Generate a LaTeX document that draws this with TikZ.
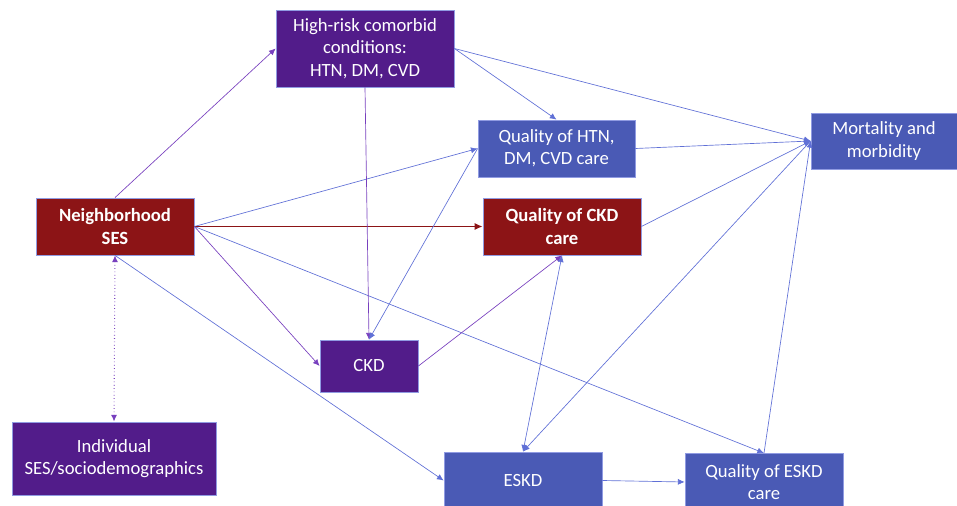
\documentclass[tikz,border=0pt]{standalone}
\usepackage{fontspec}
\setmainfont{Carlito}
\usepackage{xcolor}
\usetikzlibrary{arrows.meta}

\definecolor{boxpurple}{RGB}{82,28,138}
\definecolor{boxblue}{RGB}{74,90,181}
\definecolor{boxred}{RGB}{140,20,22}
\definecolor{edgeblue}{RGB}{96,112,214}
\definecolor{edgepurple}{RGB}{120,64,190}

\begin{document}
\begin{tikzpicture}[x=0.75pt, y=-0.75pt]
        \tikzstyle{every node}=[font=\fontsize{14}{16.8}\selectfont, text=white, align=center, inner sep=2pt]
        \tikzstyle{box}=[draw=edgeblue!70, line width=0.6pt, minimum width=158*0.75pt, minimum height=57*0.75pt]
        \tikzstyle{pbox}=[box, fill=boxpurple]
        \tikzstyle{bbox}=[box, fill=boxblue]
        \tikzstyle{rbox}=[box, fill=boxred, font=\fontsize{14}{16.8}\selectfont\bfseries]
        \tikzstyle{blueline}=[edgeblue, line width=0.5pt, -{Latex[length=5pt,width=4.5pt]}]
        \tikzstyle{purpleline}=[edgepurple, line width=0.5pt, -{Latex[length=5pt,width=4.5pt]}]

        \useasboundingbox (0,0) rectangle (957,506);
        \clip (0,0) rectangle (957,506);

        % Boxes
        \node[pbox, minimum width=178*0.75pt, minimum height=77*0.75pt] (high) at (365,48.5) {High-risk comorbid\\conditions:\\HTN, DM, CVD};
        \node[bbox, minimum width=157*0.75pt] (qhtn) at (556.5,148.5) {Quality of HTN,\\DM, CVD care};
        \node[bbox, minimum width=146*0.75pt, minimum height=56*0.75pt] (mort) at (884,141) {Mortality and\\morbidity};
        \node[rbox] (nses) at (115,226.5) {Neighborhood\\SES};
        \node[rbox] (qckd) at (562,226.5) {Quality of CKD\\care};
        \node[pbox, minimum width=98*0.75pt, minimum height=52*0.75pt] (ckd) at (369,366) {CKD};
        \node[pbox, minimum width=204*0.75pt, minimum height=73*0.75pt] (indiv) at (114,458.5) {Individual\\SES/sociodemographics};
        \node[bbox] (eskd) at (523,480.5) {ESKD};
        \node[bbox] (qeskd) at (764,482) {Quality of ESKD\\care};

        % From neighborhood SES
        \draw[purpleline] (nses.north) -- (high.west);
        \draw[blueline] (nses.east) -- (qhtn.west);
        \draw[boxred, line width=1.3pt, -{Latex[length=6pt,width=5.5pt]}] (nses.east) -- (qckd.west);
        \draw[purpleline] (nses.east) -- (ckd.west);
        \draw[blueline] (nses.east) -- (qeskd.north);
        \draw[blueline] (nses.south) -- (eskd.west);
        \draw[purpleline, dotted, line width=0.8pt, {Latex[length=5pt,width=4.5pt]}-{Latex[length=5pt,width=4.5pt]}] (nses.south) -- (indiv.north);

        % From comorbid conditions
        \draw[purpleline] (high.south) -- (ckd.north);
        \draw[blueline] (high.east) -- (qhtn.north);
        \draw[blueline] (high.east) -- (mort.west);

        % Care and outcomes
        \draw[blueline] (qhtn.west) -- (ckd.north);
        \draw[purpleline] (ckd.east) -- (qckd.south);
        \draw[blueline, {Latex[length=5pt,width=4.5pt]}-{Latex[length=5pt,width=4.5pt]}] (qckd.south) -- (eskd.north);
        \draw[blueline] (mort.west) -- (eskd.north);
        \draw[blueline] (qhtn.east) -- (mort.west);
        \draw[blueline] (qckd.east) -- (mort.west);
        \draw[blueline] (qeskd.north) -- (mort.west);
        \draw[blueline] (eskd.east) -- (qeskd.west);
\end{tikzpicture}
\end{document}
